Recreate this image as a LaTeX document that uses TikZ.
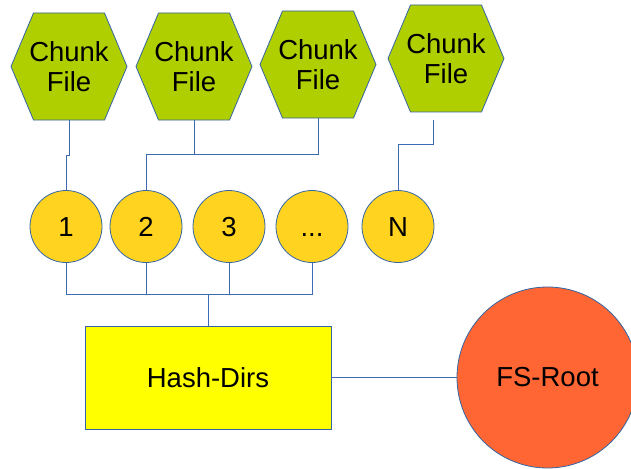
\documentclass[tikz,border=0pt]{standalone}
\usepackage{fontspec}
\setmainfont{Liberation Sans}
\definecolor{lineblue}{HTML}{3E6AB3}
\definecolor{edgeblue}{HTML}{3465A4}
\definecolor{hexgreen}{HTML}{B0CF00}
\definecolor{gold}{HTML}{FFD320}
\definecolor{hashyellow}{HTML}{FFFF00}
\definecolor{rootorange}{HTML}{FF6633}
\newcommand\chunkhex[3]{%
  \filldraw[fill=hexgreen,draw=edgeblue,line width=0.8pt]
    (#2-58,#3) -- (#2-35.5,#3-53.5) -- (#2+35.5,#3-53.5) -- (#2+58,#3)
    -- (#2+35.5,#3+53.5) -- (#2-35.5,#3+53.5) -- cycle;
  \node[chunklabel] (#1) at (#2,#3) {Chunk\\File};}
\begin{document}
\begin{tikzpicture}[x=1pt,y=-1pt,
  chunklabel/.style={align=center,minimum width=116pt,minimum height=107pt,inner sep=0pt,
    font=\fontsize{27.5}{30}\selectfont},
  numnode/.style={circle,draw=edgeblue,fill=gold,line width=0.8pt,minimum size=72pt,inner sep=0pt,
    text height=19.5pt,text depth=0pt,font=\fontsize{27.5}{30}\selectfont},
  conn/.style={draw=lineblue,line width=0.9pt}]
\useasboundingbox (0,0) rectangle (631,468);
\clip (0,0) rectangle (631,468);
\chunkhex{h1}{69}{66.5}
\chunkhex{h2}{194}{66.5}
\chunkhex{h3}{318}{64.5}
\chunkhex{h4}{446}{58.5}
\node[numnode] (c1) at (66,226.5) {1};
\node[numnode] (c2) at (146,226.5) {2};
\node[numnode] (c3) at (229,226.5) {3};
\node[numnode] (c4) at (312,226.5) {...};
\node[numnode] (cN) at (398,226.5) {N};
\node[draw=edgeblue,fill=hashyellow,line width=0.8pt,minimum width=246pt,minimum height=103pt,inner sep=0pt,
  font=\fontsize{27.5}{30}\selectfont] (hd) at (208,377.5) {Hash-Dirs};
\node[circle,draw=edgeblue,fill=rootorange,line width=0.8pt,minimum size=181pt,inner sep=0pt,
  font=\fontsize{27.5}{30}\selectfont] (root) at (547.5,377.5) {FS-Root};
\coordinate (j1) at (69,155);
\coordinate (h4t) at (433,120);
\coordinate (bus) at (208,294);
\draw[conn] (h1.south) -- (j1) -- (j1 -| c1.north) -- (c1.north);
\draw[conn] (h2.south) -- ++(0,34) -| (c2.north);
\draw[conn] (h3.south) -- ++(0,36) -| (c2.north);
\draw[conn] (h4t) -- ++(0,24) -| (cN.north);
\draw[conn] (c1.south) |- (c4.south |- bus) -- (c4.south);
\draw[conn] (c2.south) -- (c2.south |- bus);
\draw[conn] (c3.south) -- (c3.south |- bus);
\draw[conn] (bus) -- (hd.north);
\draw[conn] (hd.east) -- (root.west);
\end{tikzpicture}
\end{document}
